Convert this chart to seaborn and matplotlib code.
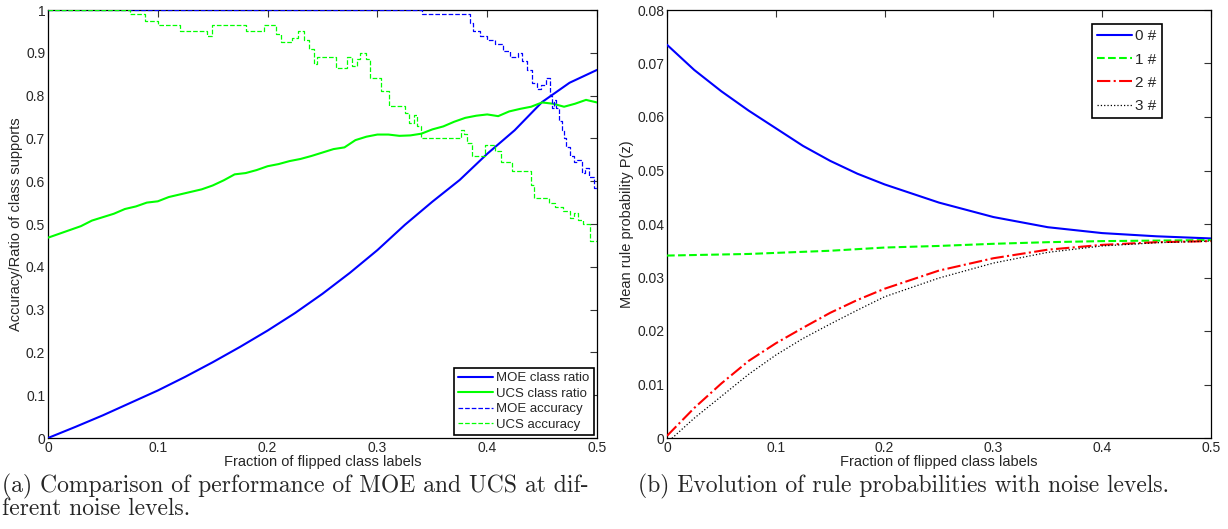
import numpy as np
import pandas as pd
import matplotlib
matplotlib.use("Agg")
import matplotlib.pyplot as plt
import seaborn as sns

# ---------------- data: panel (a) ----------------
moe_ratio_x = [0, .025, .05, .075, .1, .125, .15, .175, .2, .225, .25, .275, .3,
               .325, .35, .375, .4, .425, .45, .475, .5]
moe_ratio_y = [0, .026, .053, .082, .111, .143, .177, .213, .251, .292, .337, .386, .439,
               .498, .552, .603, .664, .719, .785, .830, .860]

ucs_ratio_x = [i / 100 for i in range(51)]
ucs_ratio_y = [.468, .477, .486, .495, .508, .516, .524, .535, .541, .550,
               .553, .563, .569, .575, .581, .590, .602, .616, .619, .626,
               .635, .640, .647, .652, .659, .667, .675, .679, .696, .704,
               .709, .709, .706, .707, .711, .721, .728, .739, .748, .753,
               .756, .752, .763, .769, .774, .784, .781, .774, .781, .790, .784]

moe_acc_x = [0, .341, .384, .387, .393, .400, .407, .414, .421, .428, .432, .436, .441,
             .445, .449, .454, .457, .459, .461, .463, .465, .468, .470, .472, .475,
             .479, .482, .486, .489, .493, .497, .5]
moe_acc_y = [1.0, .99, .97, .95, .94, .93, .92, .905, .89, .90, .88, .86, .83,
             .815, .825, .84, .80, .77, .79, .77, .74, .72, .70, .68, .66,
             .645, .65, .62, .63, .61, .585, .585]

ucs_acc_x = [0, .075, .088, .1, .12, .145, .149, .18, .197, .208, .212, .222, .228,
             .233, .238, .242, .245, .262, .272, .277, .281, .284, .290, .293, .303,
             .311, .325, .329, .333, .336, .340, .376, .379, .382, .386, .398, .407,
             .413, .423, .440, .443, .456, .462, .469, .475, .479, .483, .487, .494, .5]
ucs_acc_y = [1.0, .99, .975, .965, .95, .94, .965, .95, .965, .945, .925, .935, .95,
             .93, .91, .875, .89, .865, .89, .87, .885, .90, .885, .84, .81,
             .775, .76, .735, .755, .73, .70, .72, .71, .69, .66, .685, .67,
             .645, .625, .59, .56, .55, .54, .53, .515, .525, .51, .50, .46, .46]

# ---------------- data: panel (b) ----------------
p_x = [0, .025, .05, .075, .1, .125, .15, .175, .2, .25, .3, .35, .4, .45, .5]
p0 = [.0735, .0688, .0648, .0612, .0579, .0546, .0518, .0494, .0474, .0440, .0413, .0394, .0383, .0377, .0373]
p1 = [.0341, .0342, .0343, .0344, .0346, .0348, .0350, .0353, .0356, .0359, .0363, .0366, .0368, .0369, .0370]
p2 = [.0004, .0056, .0102, .0144, .0177, .0206, .0234, .0258, .0279, .0313, .0336, .0352, .0361, .0366, .0368]
p3 = [-.0009, .0037, .0078, .0119, .0155, .0186, .0213, .0239, .0264, .0299, .0327, .0347, .0359, .0365, .0368]

left_yticks = [0, .1, .2, .3, .4, .5, .6, .7, .8, .9, 1]
left_yticklabels = ["0", "0.1", "0.2", "0.3", "0.4", "0.5", "0.6", "0.7", "0.8", "0.9", "1"]
right_yticks = [0, .01, .02, .03, .04, .05, .06, .07, .08]
right_yticklabels = ["0", "0.01", "0.02", "0.03", "0.04", "0.05", "0.06", "0.07", "0.08"]
xticks = [0, .1, .2, .3, .4, .5]
xticklabels = ["0", "0.1", "0.2", "0.3", "0.4", "0.5"]

sns.set_theme(style="white")
plt.rcParams["font.family"] = ["Liberation Sans", "DejaVu Sans"]
plt.rcParams["axes.edgecolor"] = "black"
plt.rcParams["axes.linewidth"] = 0.9

BLUE = "#0000ff"
GREEN = "#00ff00"
RED = "#ff0000"

fig = plt.figure(figsize=(12.28, 5.29), dpi=100)
axA = fig.add_axes([48 / 1228, 1 - 438 / 529, (597 - 48) / 1228, 428 / 529])
axB = fig.add_axes([667 / 1228, 1 - 438 / 529, (1211 - 667) / 1228, 428 / 529])

# panel (a)
sns.lineplot(x=moe_ratio_x, y=moe_ratio_y, ax=axA, color=BLUE, lw=1.5,
             label="MOE class ratio", zorder=3)
sns.lineplot(x=ucs_ratio_x, y=ucs_ratio_y, ax=axA, color=GREEN, lw=1.5,
             label="UCS class ratio", zorder=3)
sns.lineplot(x=moe_acc_x, y=moe_acc_y, ax=axA, color=BLUE, lw=0.9, linestyle="--",
             drawstyle="steps-post", label="MOE accuracy", zorder=3)
sns.lineplot(x=ucs_acc_x, y=ucs_acc_y, ax=axA, color=GREEN, lw=0.9, linestyle="--",
             drawstyle="steps-post", label="UCS accuracy", zorder=3)
axA.set_ylim(0, 1)
axA.set_yticks(left_yticks)
axA.set_yticklabels(left_yticklabels)
axA.set_ylabel("Accuracy/Ratio of class supports", fontsize=10.5, labelpad=2)
legA = axA.legend(loc="lower right", fontsize=9.5, frameon=True, fancybox=False,
                  edgecolor="black", framealpha=1, borderpad=0.3, labelspacing=0.25,
                  handlelength=2.6, handletextpad=0.3, borderaxespad=0.25)
legA.get_frame().set_linewidth(1.2)

# panel (b)
sns.lineplot(x=p_x, y=p0, ax=axB, color=BLUE, lw=1.5, label="0 #", zorder=3)
sns.lineplot(x=p_x, y=p1, ax=axB, color=GREEN, lw=1.5, linestyle="--", label="1 #", zorder=3)
sns.lineplot(x=p_x, y=p2, ax=axB, color=RED, lw=1.5, linestyle="-.", label="2 #", zorder=3)
sns.lineplot(x=p_x, y=p3, ax=axB, color="black", lw=0.9, linestyle=":", label="3 #", zorder=3)
axB.set_ylim(0, 0.08)
axB.set_yticks(right_yticks)
axB.set_yticklabels(right_yticklabels)
axB.set_ylabel("Mean rule probability P(z)", fontsize=10.5, labelpad=2)
legB = axB.legend(loc="upper right", fontsize=11, frameon=True, fancybox=False,
                  edgecolor="black", framealpha=1, borderpad=0.35, labelspacing=0.6,
                  handlelength=2.3, handletextpad=0.2, borderaxespad=0,
                  bbox_to_anchor=((1162 - 667) / 544, (438 - 24) / 428))
legB.get_frame().set_linewidth(1.2)

for ax in (axA, axB):
    ax.set_xlim(0, 0.5)
    ax.set_xticks(xticks)
    ax.set_xticklabels(xticklabels)
    ax.set_xlabel("Fraction of flipped class labels", fontsize=10.5, labelpad=0)
    ax.tick_params(direction="in", length=5, width=0.8, top=True, right=True,
                   labelsize=10, pad=2, color="#333333")
    for s in ax.spines.values():
        s.set_visible(True)
        s.set_color("black")

cap_font = dict(family="cmr10", fontsize=17)
fig.text(2 / 1228, 1 - 492 / 529, "(a) Comparison of performance of MOE and UCS at dif-",
         va="baseline", ha="left", **cap_font)
fig.text(2 / 1228, 1 - 515 / 529, "ferent noise levels.", va="baseline", ha="left", **cap_font)
fig.text(638 / 1228, 1 - 492 / 529, "(b) Evolution of rule probabilities with noise levels.",
         va="baseline", ha="left", **cap_font)

fig.savefig("out.png", dpi=100)
